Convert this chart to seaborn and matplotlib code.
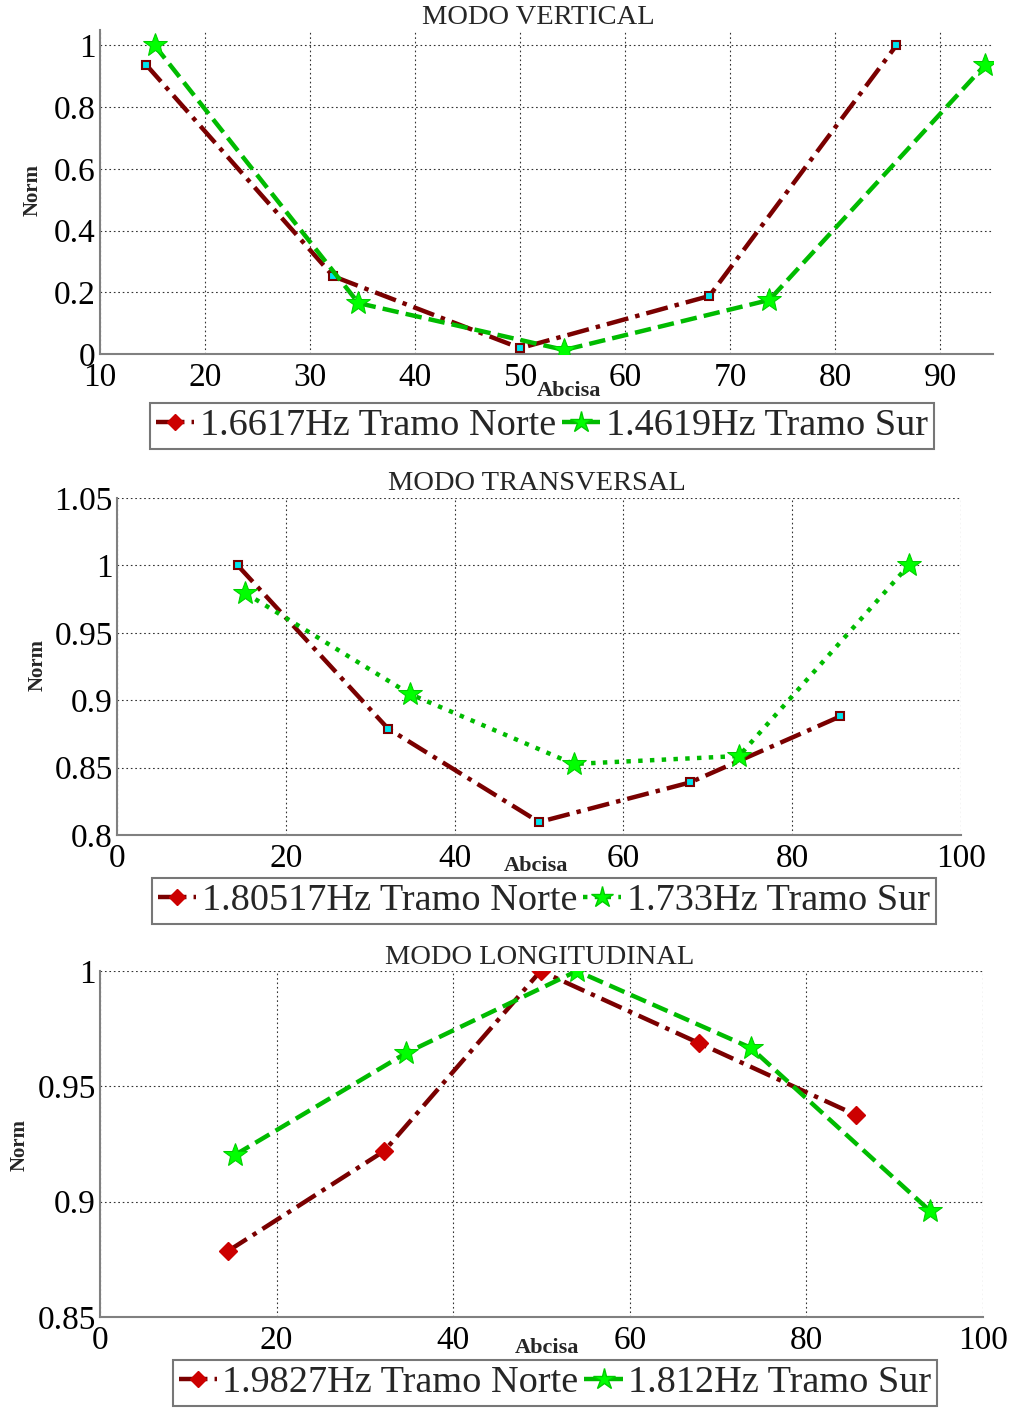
import matplotlib
matplotlib.use("Agg")
import matplotlib.pyplot as plt
import seaborn as sns
import numpy as np
from matplotlib.lines import Line2D

# ---------------- data ----------------
titles = ["MODO VERTICAL", "MODO TRANSVERSAL", "MODO LONGITUDINAL"]

v_norte_x = [14.4, 32.2, 50.0, 68.0, 85.8]
v_norte_y = [0.937, 0.252, 0.019, 0.188, 1.0]
v_sur_x = [15.2, 34.6, 54.2, 73.7, 94.2]
v_sur_y = [1.0, 0.165, 0.013, 0.175, 0.935]

t_norte_x = [14.3, 32.1, 50.0, 67.9, 85.7]
t_norte_y = [1.0, 0.879, 0.8096, 0.839, 0.888]
t_sur_x = [15.2, 34.7, 54.1, 73.7, 93.8]
t_sur_y = [0.9795, 0.9046, 0.8527, 0.8586, 1.0]

l_norte_x = [14.5, 32.2, 49.9, 67.8, 85.6]
l_norte_y = [0.8786, 0.922, 1.0, 0.9688, 0.9376]
l_sur_x = [15.3, 34.7, 54.0, 73.7, 94.0]
l_sur_y = [0.9203, 0.9645, 1.0, 0.9667, 0.896]

legend_labels = [
    ["1.6617Hz Tramo Norte", "1.4619Hz Tramo Sur"],
    ["1.80517Hz Tramo Norte", "1.733Hz Tramo Sur"],
    ["1.9827Hz Tramo Norte", "1.812Hz Tramo Sur"],
]

x_ticks = [[10, 20, 30, 40, 50, 60, 70, 80, 90], [0, 20, 40, 60, 80, 100], [0, 20, 40, 60, 80, 100]]
x_ticklabels = [["10", "20", "30", "40", "50", "60", "70", "80", "90"],
                ["0", "20", "40", "60", "80", "100"], ["0", "20", "40", "60", "80", "100"]]
y_ticks = [[0, 0.2, 0.4, 0.6, 0.8, 1.0], [0.8, 0.85, 0.9, 0.95, 1.0, 1.05], [0.85, 0.9, 0.95, 1.0]]
y_ticklabels = [["0", "0.2", "0.4", "0.6", "0.8", "1"],
                ["0.8", "0.85", "0.9", "0.95", "1", "1.05"],
                ["0.85", "0.9", "0.95", "1"]]

# ---------------- style ----------------
sns.set_style("white")
plt.rcParams["font.family"] = ["Liberation Serif", "DejaVu Serif"]

W, H = 1014, 1409
fig = plt.figure(figsize=(W / 100, H / 100), dpi=100)

def ax_rect(l, r, t, b):
    return [l / W, 1 - b / H, (r - l) / W, (b - t) / H]

axes_px = [(100, 993, 30, 354), (117, 961, 498, 835), (100, 983, 971, 1317)]
xlims = [(10, 95), (0, 100), (0, 100)]
ylims = [(0, 1.05), (0.8, 1.05), (0.85, 1.0)]
title_pos = [(538, 17), (537, 483), (540, 957)]
legend_pos = [(542, 426), (544, 901), (555, 1383)]
ylabel_pos = [(-0.075, 0.506), (-0.094, 0.504), (-0.091, 0.497)]
xlabel_pos = [(0.525, -0.114), (0.496, -0.092), (0.506, -0.090)]

DARKRED = "#7a0000"
RED = "#cc0000"
GREEN_LINE = "#00bb00"
GREEN_FILL = "#00ff00"

data = [
    (v_norte_x, v_norte_y, v_sur_x, v_sur_y, "--"),
    (t_norte_x, t_norte_y, t_sur_x, t_sur_y, ":"),
    (l_norte_x, l_norte_y, l_sur_x, l_sur_y, "--"),
]

for i in range(3):
    ax = fig.add_axes(ax_rect(*axes_px[i]))
    nx, ny, sx, sy, sur_ls = data[i]

    if i < 2:
        n_marker = dict(marker="s", markersize=6, markerfacecolor="#00e5ee",
                        markeredgecolor=DARKRED, markeredgewidth=1.5)
    else:
        n_marker = dict(marker="D", markersize=9, markerfacecolor=RED,
                        markeredgecolor=RED, markeredgewidth=1)

    sns.lineplot(x=nx, y=ny, ax=ax, color=DARKRED, linestyle=(0, (5, 1.6, 1, 1.6)),
                 linewidth=3.2, sort=False, zorder=3, **n_marker)
    sns.lineplot(x=sx, y=sy, ax=ax, color=GREEN_LINE, linestyle=sur_ls,
                 linewidth=3.2, marker="*", markersize=18,
                 markerfacecolor=GREEN_FILL, markeredgecolor="#00cc00",
                 sort=False, zorder=3)

    ax.set_xlim(*xlims[i])
    ax.set_ylim(*ylims[i])
    ax.set_xticks(x_ticks[i])
    ax.set_xticklabels(x_ticklabels[i], fontsize=24)
    ax.set_yticks(y_ticks[i])
    ax.set_yticklabels(y_ticklabels[i], fontsize=24)
    ax.tick_params(direction="in", length=5, width=1, colors="black")
    ax.tick_params(axis="x", pad=6)
    ax.tick_params(axis="y", pad=3)
    ax.grid(True, color="black", linestyle=(0, (1.5, 2.5)), linewidth=0.8, alpha=0.8)
    for s in ["top", "right"]:
        ax.spines[s].set_visible(False)
    for s in ["left", "bottom"]:
        ax.spines[s].set_color("#808080")
        ax.spines[s].set_linewidth(1.5)

    ax.set_ylabel("Norm", fontsize=15, fontweight="bold", va="center")
    ax.yaxis.set_label_coords(*ylabel_pos[i])
    ax.set_xlabel("Abcisa", fontsize=16, fontweight="bold", va="center")
    ax.xaxis.set_label_coords(*xlabel_pos[i])

    tx, ty = title_pos[i]
    fig.text(tx / W, 1 - ty / H, titles[i], fontsize=20.5, ha="center", va="center")

    h1 = Line2D([], [], color=DARKRED, linestyle="-.", linewidth=3.2, marker="D",
                markersize=8, markerfacecolor=RED, markeredgecolor=RED)
    h2 = Line2D([], [], color=GREEN_LINE, linestyle=sur_ls, linewidth=3.2, marker="*",
                markersize=16, markerfacecolor=GREEN_FILL, markeredgecolor="#00cc00")
    lx, ly = legend_pos[i]
    leg = fig.legend([h1, h2], legend_labels[i], loc="center",
                     bbox_to_anchor=(lx / W, 1 - ly / H), ncol=2, fontsize=27.5,
                     frameon=True, fancybox=False, handlelength=1.0,
                     handletextpad=0.15, columnspacing=0.15, borderpad=0.15,
                     borderaxespad=0)
    leg.get_frame().set_edgecolor("#555555")
    leg.get_frame().set_linewidth(1.5)

fig.savefig("out.png", dpi=100)
